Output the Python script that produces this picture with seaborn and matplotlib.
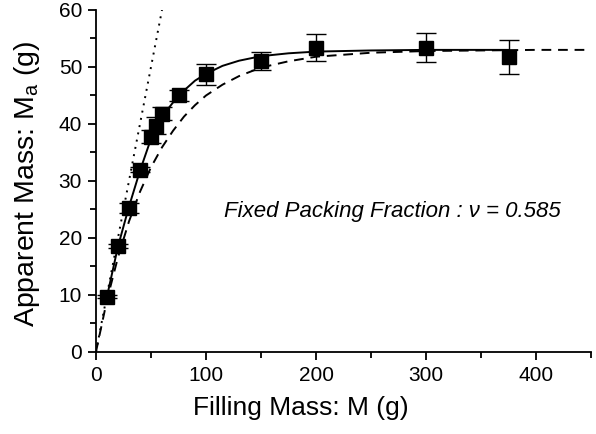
import matplotlib
matplotlib.use("Agg")
import matplotlib.pyplot as plt
from matplotlib.ticker import MultipleLocator
import seaborn as sns

# measured points
fill_mass = [10, 20, 30, 40, 50, 55, 60, 75, 100, 150, 200, 300, 375]
app_mass = [9.7, 18.6, 25.3, 32.0, 37.8, 39.7, 41.8, 45.0, 48.7, 51.1, 53.4, 53.4, 51.7]
app_err = [0.3, 0.4, 0.9, 0.5, 1.2, 1.5, 1.1, 0.9, 1.9, 1.6, 2.4, 2.5, 3.0]

# fit curve (solid)
fit_x = [10, 20, 30, 40, 50, 55, 60, 75, 90, 100, 115, 130, 150, 175, 200, 250, 300, 375]
fit_y = [9.7, 18.5, 25.5, 31.8, 37.4, 39.5, 41.3, 45.0, 47.6, 48.8, 50.2, 51.1, 51.9, 52.4, 52.7, 52.9, 53.0, 53.0]

# Janssen curve (dashed)
jan_x = [0, 10, 20, 30, 40, 50, 60, 70, 80, 90, 100, 115, 130, 150, 175, 200, 250, 300, 350, 400, 450]
jan_y = [0, 9.1, 16.6, 22.9, 28.1, 32.4, 35.9, 38.8, 41.3, 43.3, 45.0, 46.9, 48.4, 49.9, 51.0, 51.8, 52.5, 52.8, 52.9, 53.0, 53.0]

# hydrostatic line Ma = M (dotted)
hyd_x = [0, 60]
hyd_y = [0, 60]

sns.set_theme(style="ticks")
plt.rcParams["font.family"] = ["Liberation Sans", "DejaVu Sans"]
plt.rcParams["mathtext.fontset"] = "custom"
plt.rcParams["mathtext.rm"] = "Liberation Sans"
plt.rcParams["text.color"] = "black"
plt.rcParams["axes.labelcolor"] = "black"

fig = plt.figure(figsize=(5.96, 4.34), dpi=100)
ax = fig.add_axes([0.161, 0.189, 0.831, 0.788])

sns.lineplot(x=hyd_x, y=hyd_y, ax=ax, color="black", lw=1.4, ls=(0, (1, 2.8)))
sns.lineplot(x=jan_x, y=jan_y, ax=ax, color="black", lw=1.4, ls=(0, (5, 3.5)))
sns.lineplot(x=fit_x, y=fit_y, ax=ax, color="black", lw=1.4)
ax.errorbar(fill_mass, app_mass, yerr=app_err, fmt="s", color="black", ms=9.5,
            ecolor="black", elinewidth=1, capsize=7, capthick=1, zorder=5)

ax.text(269, 24.6, "Fixed Packing Fraction : ν = 0.585", style="italic",
        fontsize=16, ha="center", va="center", color="black")

ax.set_xlim(0, 450)
ax.set_ylim(0, 60)
ax.xaxis.set_major_locator(MultipleLocator(100))
ax.xaxis.set_minor_locator(MultipleLocator(50))
ax.yaxis.set_major_locator(MultipleLocator(10))
ax.yaxis.set_minor_locator(MultipleLocator(5))
ax.set_xticks([0, 100, 200, 300, 400])
ax.tick_params(which="major", direction="out", length=6, width=1.3, labelsize=15,
               colors="black", pad=4)
ax.tick_params(which="minor", direction="out", length=4, width=1.3, colors="black")
sns.despine(ax=ax)
for s in ("left", "bottom"):
    ax.spines[s].set_linewidth(1.3)
    ax.spines[s].set_color("black")

ax.set_xlabel("Filling Mass: M (g)", fontsize=19)
ax.set_ylabel("Apparent Mass: M$_\\mathregular{a}$ (g)", fontsize=20.5)
ax.xaxis.set_label_coords(0.414, -0.128)
ax.yaxis.set_label_coords(-0.108, 0.493)

fig.savefig("out.png", dpi=100)
